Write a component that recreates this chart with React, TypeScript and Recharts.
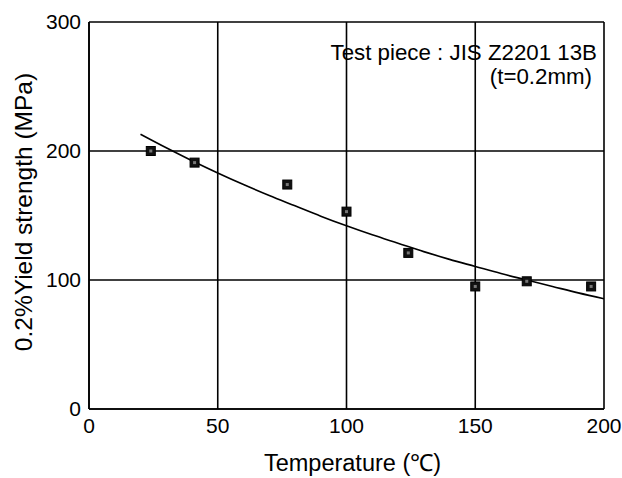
import React from "react";
import {
  ComposedChart,
  Line,
  Scatter,
  XAxis,
  YAxis,
  CartesianGrid,
} from "recharts";

const measuredTemp = [24, 41, 77, 100, 124, 150, 170, 195];
const measuredStrength = [200, 191, 174, 153, 121, 95, 99, 95];

const curveTemp = [20, 30, 40, 50, 60, 70, 80, 90, 100, 110, 120, 130, 140, 150, 160, 170, 180, 190, 200];
const curveStrength = [213, 202.5, 192.5, 183, 174, 165.5, 157.5, 149.5, 142, 135, 128.5, 122, 116, 110.5, 105, 100, 95, 90, 85.5];

const xTicks = [0, 50, 100, 150, 200];
const yTicks = [0, 100, 200, 300];

const xTitle = "Temperature (℃)";
const yTitle = "0.2%Yield strength (MPa)";
const noteLine1 = "Test piece : JIS Z2201 13B";
const noteLine2 = "(t=0.2mm)";

const points = measuredTemp.map((x, i) => ({ x, y: measuredStrength[i] }));
const curve = curveTemp.map((x, i) => ({ x, y: curveStrength[i] }));

const FONT = "'Liberation Sans', Arial, sans-serif";

const SquareMarker = (props: any) => {
  const { cx, cy } = props;
  if (cx == null || cy == null) return null;
  const s = 9;
  return (
    <g>
      <rect x={cx - s / 2} y={cy - s / 2} width={s} height={s} fill="#111" stroke="#000" strokeWidth={1} />
      <rect x={cx - 1.5} y={cy - 1.5} width={3} height={3} fill="#777" />
    </g>
  );
};

export default function App() {
  return (
    <div style={{ position: "absolute", left: 0, top: 0, width: 622, height: 478, background: "#fff" }}>
      <ComposedChart
        width={622}
        height={478}
        margin={{ top: 22, right: 18, bottom: 0, left: 0 }}
        style={{ fontFamily: FONT }}
      >
        <CartesianGrid stroke="#000" strokeWidth={1.6} />
        <XAxis
          type="number"
          dataKey="x"
          domain={[0, 200]}
          ticks={xTicks}
          height={69}
          tickSize={0}
          tickMargin={9}
          axisLine={{ stroke: "#000", strokeWidth: 1.6 }}
          tick={{ fill: "#000", fontSize: 21, fontFamily: FONT }}
          allowDataOverflow
        />
        <YAxis
          type="number"
          dataKey="y"
          domain={[0, 300]}
          ticks={yTicks}
          width={89}
          tickSize={0}
          tickMargin={8}
          axisLine={{ stroke: "#000", strokeWidth: 1.6 }}
          tick={{ fill: "#000", fontSize: 21, fontFamily: FONT }}
          allowDataOverflow
        />
        <Line
          data={curve}
          dataKey="y"
          type="monotone"
          stroke="#000"
          strokeWidth={1.6}
          dot={false}
          activeDot={false}
          isAnimationActive={false}
        />
        <Scatter
          data={points}
          dataKey="y"
          shape={SquareMarker}
          isAnimationActive={false}
        />
      </ComposedChart>
      <svg
        width={622}
        height={478}
        style={{ position: "absolute", left: 0, top: 0, pointerEvents: "none" }}
      >
        <text x={597} y={60} textAnchor="end" fontSize={22.3} fontFamily={FONT} fill="#000">
          {noteLine1}
        </text>
        <text x={592} y={84} textAnchor="end" fontSize={22.3} fontFamily={FONT} fill="#000">
          {noteLine2}
        </text>
        <text x={352.5} y={471} textAnchor="middle" fontSize={23.5} fontFamily={FONT} fill="#000">
          {xTitle}
        </text>
        <text
          x={32}
          y={212}
          textAnchor="middle"
          fontSize={24.5}
          fontFamily={FONT}
          fill="#000"
          transform="rotate(-90 32 212)"
        >
          {yTitle}
        </text>
      </svg>
    </div>
  );
}
